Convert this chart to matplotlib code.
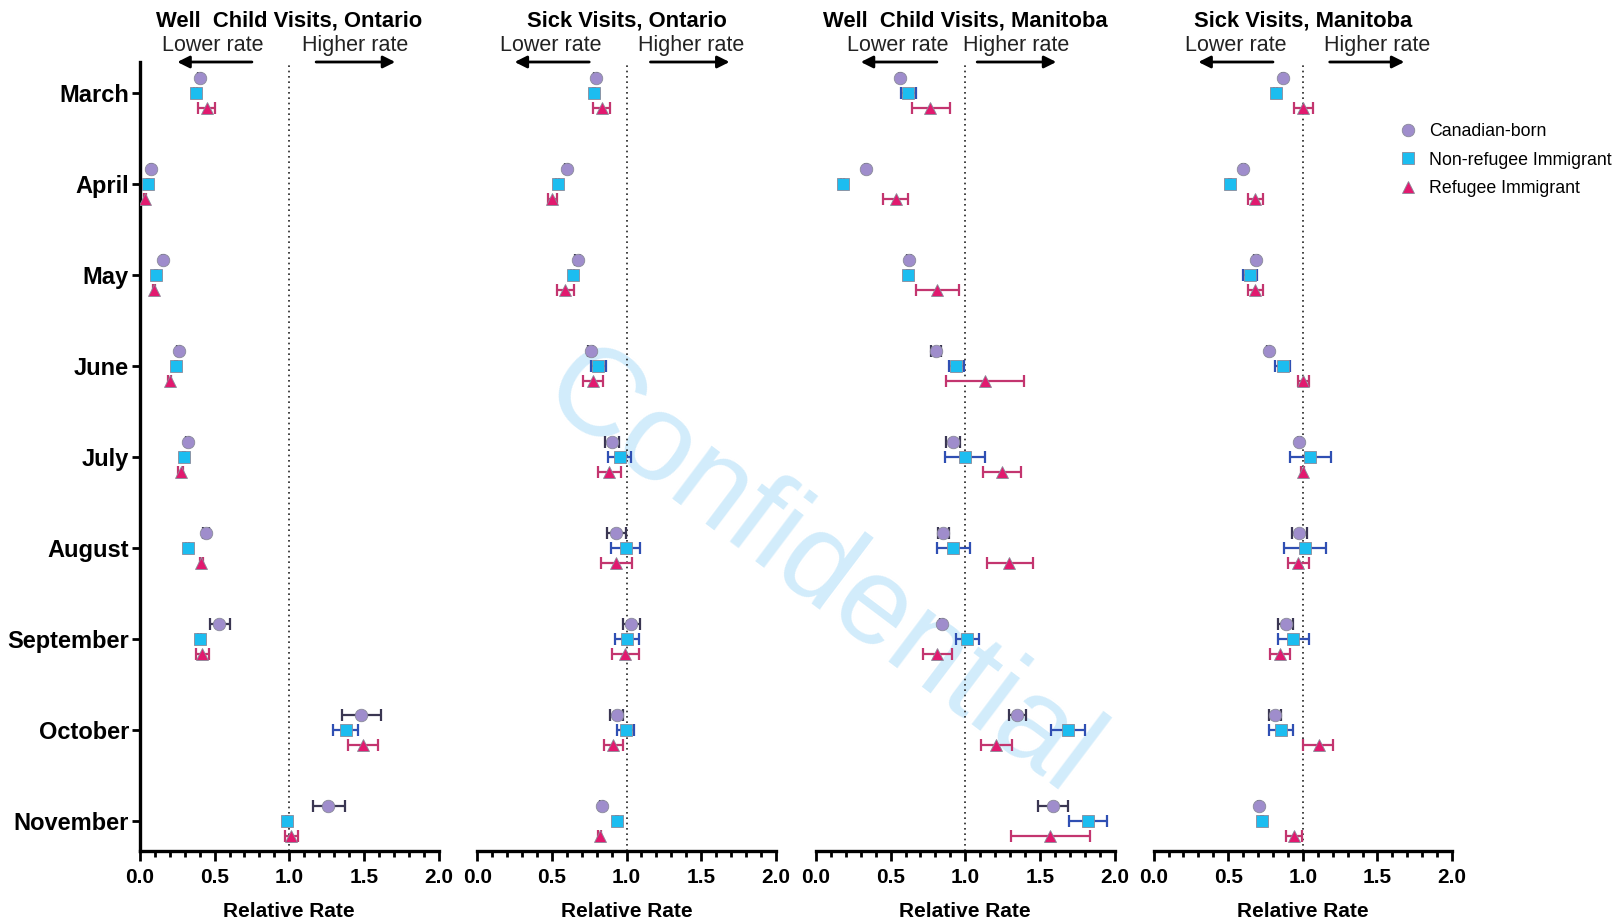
import matplotlib
matplotlib.use("Agg")
import matplotlib.pyplot as plt
import matplotlib.transforms as mtransforms
from matplotlib.ticker import MultipleLocator, FormatStrFormatter
from matplotlib.lines import Line2D
import numpy as np

plt.rcParams['font.family'] = ['Liberation Sans', 'DejaVu Sans']

# Data
months = ["March", "April", "May", "June", "July", "August", "September", "October", "November"]
groups = ["Canadian-born", "Non-refugee Immigrant", "Refugee Immigrant"]
titles = ["Well  Child Visits, Ontario", "Sick Visits, Ontario",
          "Well  Child Visits, Manitoba", "Sick Visits, Manitoba"]

# Well child visits, Ontario
won_cb_rr = [0.400, 0.074, 0.152, 0.261, 0.319, 0.442, 0.531, 1.478, 1.261]
won_cb_lo = [0.390, 0.065, 0.145, 0.250, 0.310, 0.425, 0.469, 1.351, 1.157]
won_cb_hi = [0.410, 0.083, 0.160, 0.270, 0.330, 0.460, 0.603, 1.612, 1.373]
won_nr_rr = [0.375, 0.056, 0.107, 0.241, 0.295, 0.320, 0.400, 1.378, 0.982]
won_nr_lo = [0.365, 0.050, 0.100, 0.235, 0.290, 0.310, 0.390, 1.295, 0.975]
won_nr_hi = [0.385, 0.062, 0.115, 0.248, 0.300, 0.330, 0.410, 1.462, 0.990]
won_rf_rr = [0.447, 0.034, 0.094, 0.201, 0.275, 0.409, 0.413, 1.492, 1.011]
won_rf_lo = [0.390, 0.025, 0.085, 0.190, 0.255, 0.400, 0.373, 1.395, 0.971]
won_rf_hi = [0.500, 0.043, 0.100, 0.210, 0.290, 0.420, 0.464, 1.592, 1.060]

# Sick visits, Ontario
son_cb_rr = [0.795, 0.598, 0.672, 0.761, 0.904, 0.929, 1.029, 0.933, 0.833]
son_cb_lo = [0.785, 0.590, 0.655, 0.745, 0.855, 0.866, 0.973, 0.886, 0.825]
son_cb_hi = [0.805, 0.605, 0.690, 0.775, 0.951, 0.996, 1.089, 0.975, 0.840]
son_nr_rr = [0.781, 0.538, 0.638, 0.810, 0.955, 0.993, 1.000, 0.993, 0.937]
son_nr_lo = [0.775, 0.530, 0.630, 0.761, 0.877, 0.895, 0.924, 0.935, 0.930]
son_nr_hi = [0.790, 0.545, 0.645, 0.859, 1.033, 1.089, 1.083, 1.051, 0.945]
son_rf_rr = [0.833, 0.502, 0.587, 0.772, 0.884, 0.929, 0.989, 0.911, 0.821]
son_rf_lo = [0.777, 0.471, 0.531, 0.705, 0.806, 0.826, 0.900, 0.846, 0.810]
son_rf_hi = [0.888, 0.536, 0.650, 0.844, 0.962, 1.036, 1.085, 0.978, 0.830]

# Well child visits, Manitoba
wmb_cb_rr = [0.562, 0.334, 0.622, 0.803, 0.919, 0.852, 0.841, 1.347, 1.588]
wmb_cb_lo = [0.555, 0.325, 0.610, 0.770, 0.874, 0.818, 0.830, 1.291, 1.487]
wmb_cb_hi = [0.570, 0.340, 0.635, 0.840, 0.968, 0.890, 0.850, 1.405, 1.688]
wmb_nr_rr = [0.618, 0.178, 0.618, 0.936, 1.001, 0.919, 1.014, 1.688, 1.822]
wmb_nr_lo = [0.569, 0.170, 0.610, 0.890, 0.867, 0.812, 0.936, 1.576, 1.695]
wmb_nr_hi = [0.667, 0.185, 0.625, 0.992, 1.130, 1.035, 1.093, 1.804, 1.949]
wmb_rf_rr = [0.767, 0.533, 0.814, 1.130, 1.246, 1.293, 0.814, 1.208, 1.570]
wmb_rf_lo = [0.640, 0.450, 0.667, 0.870, 1.119, 1.146, 0.718, 1.108, 1.304]
wmb_rf_hi = [0.896, 0.618, 0.959, 1.394, 1.371, 1.454, 0.912, 1.313, 1.837]

# Sick visits, Manitoba
smb_cb_rr = [0.869, 0.601, 0.686, 0.771, 0.976, 0.976, 0.886, 0.813, 0.708]
smb_cb_lo = [0.860, 0.595, 0.670, 0.760, 0.965, 0.927, 0.835, 0.775, 0.700]
smb_cb_hi = [0.875, 0.610, 0.700, 0.780, 0.985, 1.031, 0.935, 0.853, 0.715]
smb_nr_rr = [0.820, 0.512, 0.646, 0.864, 1.049, 1.013, 0.935, 0.853, 0.726]
smb_nr_lo = [0.810, 0.505, 0.601, 0.815, 0.915, 0.871, 0.831, 0.775, 0.720]
smb_nr_hi = [0.830, 0.520, 0.693, 0.913, 1.187, 1.158, 1.038, 0.931, 0.735]
smb_rf_rr = [1.004, 0.682, 0.682, 1.004, 0.998, 0.969, 0.846, 1.105, 0.938]
smb_rf_lo = [0.942, 0.635, 0.635, 0.970, 0.990, 0.898, 0.780, 1.002, 0.886]
smb_rf_hi = [1.071, 0.735, 0.735, 1.040, 1.005, 1.042, 0.915, 1.203, 0.991]

panels = [
    [(won_cb_rr, won_cb_lo, won_cb_hi), (won_nr_rr, won_nr_lo, won_nr_hi), (won_rf_rr, won_rf_lo, won_rf_hi)],
    [(son_cb_rr, son_cb_lo, son_cb_hi), (son_nr_rr, son_nr_lo, son_nr_hi), (son_rf_rr, son_rf_lo, son_rf_hi)],
    [(wmb_cb_rr, wmb_cb_lo, wmb_cb_hi), (wmb_nr_rr, wmb_nr_lo, wmb_nr_hi), (wmb_rf_rr, wmb_rf_lo, wmb_rf_hi)],
    [(smb_cb_rr, smb_cb_lo, smb_cb_hi), (smb_nr_rr, smb_nr_lo, smb_nr_hi), (smb_rf_rr, smb_rf_lo, smb_rf_hi)],
]

# styles
markers = ['o', 's', '^']
face_cols = ['#9f8dcc', '#1cbdf0', '#e2196f']
err_cols = ['#3a3652', '#2f4fb3', '#c3356f']
offsets = [-0.165, 0.0, 0.165]

# annotation layout per panel (x positions)
lower_x = [0.49, 0.49, 0.55, 0.55]
higher_x = [1.44, 1.43, 1.34, 1.50]
larrow = [(0.75, 0.25), (0.75, 0.25), (0.81, 0.30), (0.80, 0.30)]
rarrow = [(1.18, 1.71), (1.16, 1.69), (1.08, 1.61), (1.18, 1.68)]

fig = plt.figure(figsize=(16.21, 9.24), dpi=100)
lefts = [140, 477.3, 816, 1153.6]
y = np.arange(len(months))

for p, left in enumerate(lefts):
    ax = fig.add_axes([left / 1621, 73 / 924, 298.5 / 1621, 789 / 924])
    ax.set_facecolor('none')
    ax.axvline(1.0, color='#222222', ls=(0, (1, 2.2)), lw=1.2, zorder=1)
    for g in range(3):
        rr, lo, hi = panels[p][g]
        rr = np.array(rr); lo = np.array(lo); hi = np.array(hi)
        ax.errorbar(rr, y + offsets[g], xerr=[rr - lo, hi - rr], fmt='none',
                    ecolor=err_cols[g], elinewidth=1.6, capsize=4, capthick=1.6, zorder=2)
        ax.plot(rr, y + offsets[g], ls='none', marker=markers[g], ms=9,
                mfc=face_cols[g], mec='#8a8a9a', mew=0.6, zorder=3)
    ax.set_xlim(0, 2.0)
    ax.set_ylim(8.33, -0.34)
    ax.xaxis.set_major_locator(MultipleLocator(0.5))
    ax.xaxis.set_minor_locator(MultipleLocator(0.1))
    ax.xaxis.set_major_formatter(FormatStrFormatter('%.1f'))
    ax.tick_params(axis='x', which='major', length=7, width=2, direction='out', pad=5)
    ax.tick_params(axis='x', which='minor', length=4.5, width=2, direction='out')
    for lab in ax.get_xticklabels():
        lab.set_fontweight('bold')
        lab.set_fontsize(15)
    ax.set_xlabel("Relative Rate", fontsize=15, fontweight='bold', labelpad=11)
    for s in ['top', 'right']:
        ax.spines[s].set_visible(False)
    ax.spines['bottom'].set_linewidth(2.4)
    if p == 0:
        ax.spines['left'].set_linewidth(2.4)
        ax.set_yticks(y)
        ax.set_yticklabels(months, fontsize=17, fontweight='bold')
        ax.tick_params(axis='y', length=6, width=2, pad=2)
    else:
        ax.spines['left'].set_visible(False)
        ax.set_yticks([])

    trans = mtransforms.blended_transform_factory(ax.transData, ax.transAxes)
    ax.text(1.0, 1.052, titles[p], transform=trans, ha='center', va='center',
            fontsize=15.8, fontweight='bold')
    ax.text(lower_x[p], 1.0215, "Lower rate", transform=trans, ha='center', va='center',
            fontsize=15.5, color='#222222')
    ax.text(higher_x[p], 1.0215, "Higher rate", transform=trans, ha='center', va='center',
            fontsize=15.5, color='#222222')
    for (x0, x1) in [larrow[p], rarrow[p]]:
        ax.annotate("", xy=(x1, 1.0), xytext=(x0, 1.0), xycoords=trans, textcoords=trans,
                    arrowprops=dict(arrowstyle='-|>', color='black', lw=2,
                                    mutation_scale=18, shrinkA=0, shrinkB=0),
                    annotation_clip=False)

# legend
handles = [Line2D([], [], ls='none', marker=markers[g], ms=9, mfc=face_cols[g],
                  mec='#8a8a9a', mew=0.6) for g in range(3)]
fig.legend(handles, groups, loc='upper left', bbox_to_anchor=(0.8635, 0.867),
           frameon=False, fontsize=12.8, handlelength=0.95, handletextpad=0.7,
           labelspacing=0.66, borderpad=0, borderaxespad=0)

# watermark
fig.text(0.505, 0.379, "Confidential", rotation=-37, fontsize=90, color='#d2ecfb',
         ha='center', va='center', rotation_mode='anchor', zorder=-1)

fig.savefig("out.png", dpi=100)
